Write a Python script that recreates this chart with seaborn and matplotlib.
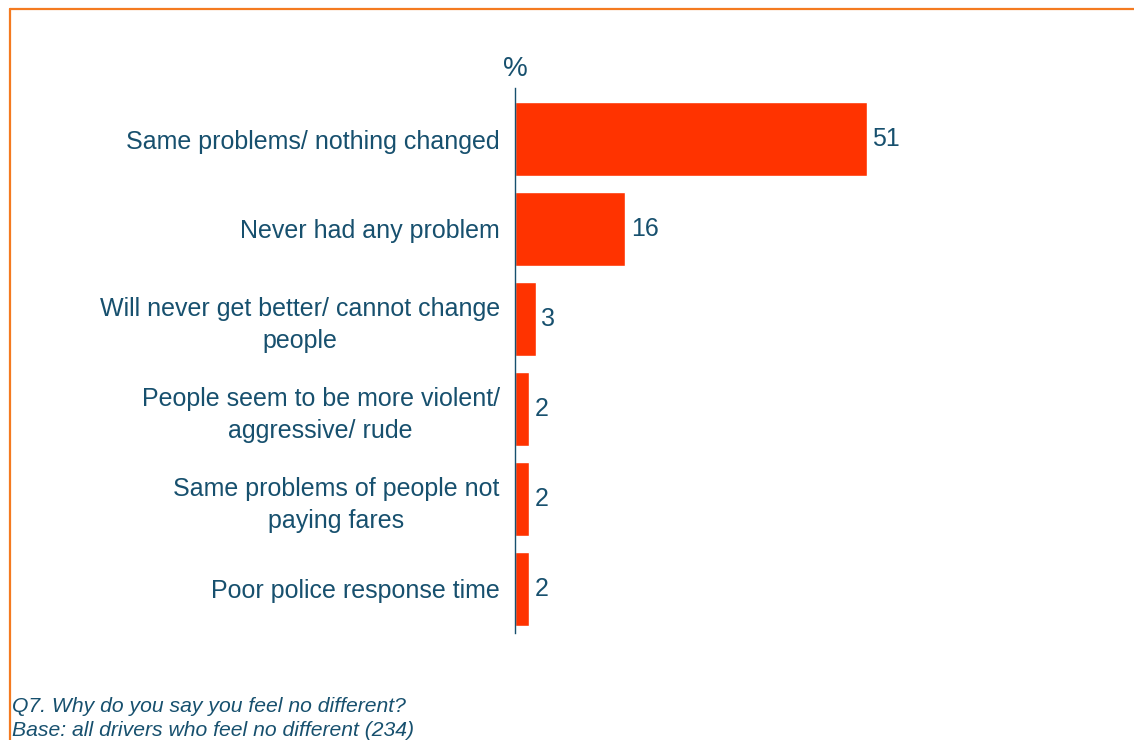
import matplotlib
matplotlib.use("Agg")
import matplotlib.pyplot as plt
from matplotlib.lines import Line2D
import seaborn as sns
import pandas as pd

categories = [
    "Same problems/ nothing changed",
    "Never had any problem",
    "Will never get better/ cannot change\npeople",
    "People seem to be more violent/\naggressive/ rude",
    "Same problems of people not\npaying fares",
    "Poor police response time",
]
values = [51, 16, 3, 2, 2, 2]
footnotes = [
    "Q7. Why do you say you feel no different?",
    "Base: all drivers who feel no different (234)",
]

BAR = "#FF3300"
TEXT = "#17506E"
FRAME = "#F47A20"

sns.set_theme(style="white")
plt.rcParams["font.family"] = ["Liberation Sans", "DejaVu Sans"]

df = pd.DataFrame({"reason": categories, "pct": values})

W, H = 1134, 740
fig = plt.figure(figsize=(W / 100, H / 100), dpi=100)
ax = fig.add_axes([515 / W, 1 - 633 / H, (1100 - 515) / W, (633 - 88) / H])

sns.barplot(data=df, y="reason", x="pct", orient="h", color=BAR,
            width=0.83, saturation=1, ax=ax)

ax.set_xlim(0, (1100 - 515) / 6.9)
ax.set_ylim(len(categories) - 0.51, -0.567)
ax.set_xlabel("")
ax.set_ylabel("")
ax.set_xticks([])
ax.tick_params(axis="y", length=0, pad=11, labelsize=18, labelcolor=TEXT)
for lbl in ax.get_yticklabels():
    lbl.set_multialignment("center")
    lbl.set_linespacing(1.38)

for side in ("top", "right", "bottom"):
    ax.spines[side].set_visible(False)
ax.spines["left"].set_color(TEXT)
ax.spines["left"].set_linewidth(1.0)

ax.bar_label(ax.containers[0], labels=[str(v) for v in values],
             padding=4, fontsize=18, color=TEXT)

fig.text(515 / W, 1 - 69 / H, "%", ha="center", va="center",
         fontsize=20, color=TEXT)

fig.text(12 / W, 1 - 706 / H, footnotes[0], ha="left", va="center",
         fontsize=15.2, style="italic", color=TEXT)
fig.text(12 / W, 1 - 730 / H, footnotes[1], ha="left", va="center",
         fontsize=15.2, style="italic", color=TEXT)

# slide frame: top and left edges
fig.add_artist(Line2D([10 / W, 1], [1 - 9 / H, 1 - 9 / H], color=FRAME,
                      linewidth=1.6, transform=fig.transFigure))
fig.add_artist(Line2D([10 / W, 10 / W], [1 - 9 / H, 0], color=FRAME,
                      linewidth=1.6, transform=fig.transFigure))

fig.savefig("out.png", dpi=100)
